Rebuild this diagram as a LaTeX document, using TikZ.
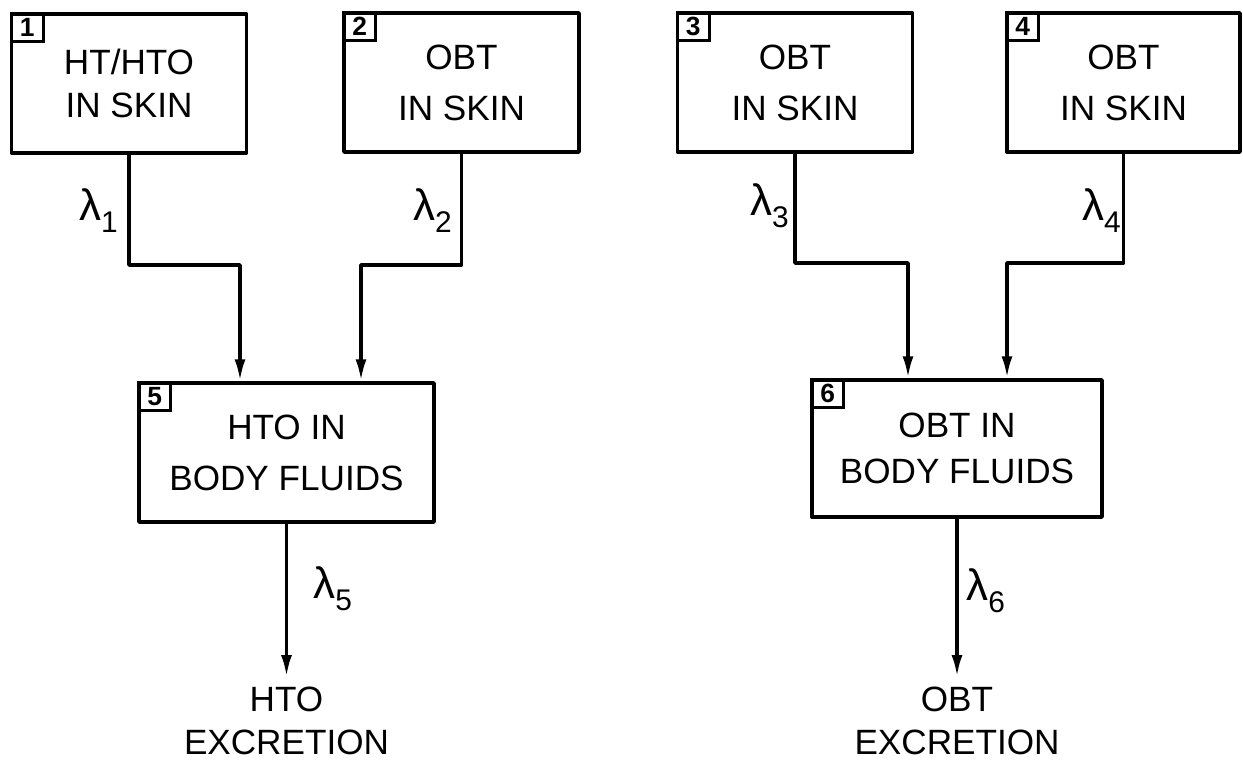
\documentclass[tikz,border=0pt]{standalone}
\usepackage{fontspec}
\setmainfont{Liberation Sans}
\usepackage{tikz}
\usetikzlibrary{
    arrows.meta,
    positioning,
    calc
}
\tikzset{
  cbox/.style   = {draw, line width=2pt, line join=round, align=center,
                   inner sep=0pt, font=\fontsize{20}{29}\selectfont},
  skin/.style   = {cbox, minimum width=4.7cm, minimum height=2.78cm},
  fluid/.style  = {cbox, minimum width=5.9cm, minimum height=2.78cm},
  nbox/.style   = {draw, line width=1.6pt, anchor=north west, inner sep=0pt,
                   minimum width=0.64cm, minimum height=0.56cm,
                   font=\fontsize{15}{15}\selectfont\bfseries},
  arr/.style    = {-{Latex[length=4.4mm, width=2.2mm]}, line width=2pt,
                   line join=round},
  lam/.style    = {inner sep=0pt, font=\fontsize{25}{25}\selectfont},
  excr/.style   = {align=center, anchor=north, inner sep=0pt,
                   font=\fontsize{20}{24.4}\selectfont}
}
\newcommand{\lamsub}[1]{λ\raisebox{-0.28em}{\fontsize{17}{17}\selectfont #1}}

\begin{document}
\begin{tikzpicture}[x=0.02cm, y=-0.02cm]
    \useasboundingbox (0,0) rectangle (1243,762);

    \node[skin] (b1) at (129,83.5)    {HT/HTO\\[-5pt]IN SKIN};
    \node[skin] (b2) at (461.5,82.5)  {OBT\\IN SKIN};
    \node[skin] (b3) at (795,82.5)    {OBT\\IN SKIN};
    \node[skin, minimum width=4.66cm] (b4) at (1123.5,82.5) {OBT\\IN SKIN};

    \node[fluid] (b5) at (286.5,452.5) {HTO IN\\BODY FLUIDS};
    \node[fluid, minimum width=5.8cm, minimum height=2.74cm] (b6) at (957,448.5)
         {OBT IN\\[-3pt]BODY FLUIDS};

    \foreach \i in {1,...,6}
        \node[nbox] (n\i) at (b\i.north west) {\i};

    \coordinate (m1) at (240,265);
    \coordinate (m2) at (361,265);
    \coordinate (m3) at (908,263);
    \coordinate (m4) at (1007,263);

    \draw[arr] (b1.south) |- (m1) -- (m1 |- b5.north);
    \draw[arr] (b2.south) |- (m2) -- (m2 |- b5.north);
    \draw[arr] (b3.south) |- (m3) -- (m3 |- b6.north);
    \draw[arr] (b4.south) |- (m4) -- (m4 |- b6.north);

    \node[lam, anchor=base east] (l1) at (118,220)  {\lamsub{1}};
    \node[lam, anchor=base east] (l2) at (452,220)  {\lamsub{2}};
    \node[lam, anchor=base east] (l3) at (789,215)  {\lamsub{3}};
    \node[lam, anchor=base east] (l4) at (1121,220) {\lamsub{4}};

    \node[excr] (x5) at (286.5,687) {HTO\\EXCRETION};
    \node[excr] (x6) at (957,687)   {OBT\\EXCRETION};

    \draw[arr, shorten >=0.2cm] (b5.south) -- (x5.north);
    \draw[arr, shorten >=0.2cm] (b6.south) -- (x6.north);

    \node[lam, anchor=base west] (l5) at (313,598) {\lamsub{5}};
    \node[lam, anchor=base west] (l6) at (966,600) {\lamsub{6}};
\end{tikzpicture}
\end{document}
